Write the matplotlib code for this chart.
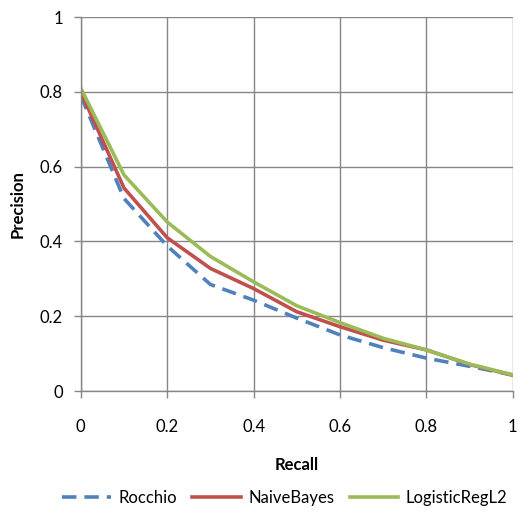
import matplotlib
matplotlib.use("Agg")
import matplotlib.pyplot as plt

plt.rcParams['font.family'] = ['Lato', 'DejaVu Sans']

recall = [0.0, 0.1, 0.2, 0.3, 0.4, 0.5, 0.6, 0.7, 0.8, 0.9, 1.0]
rocchio = [0.79, 0.515, 0.388, 0.285, 0.243, 0.195, 0.150, 0.116, 0.088, 0.066, 0.043]
naive_bayes = [0.80, 0.543, 0.410, 0.328, 0.274, 0.212, 0.172, 0.136, 0.110, 0.071, 0.042]
logistic_l2 = [0.81, 0.578, 0.452, 0.360, 0.292, 0.228, 0.183, 0.141, 0.110, 0.072, 0.043]

fig = plt.figure(figsize=(5.18, 5.21), dpi=100)
ax = fig.add_axes([0.156, 0.2495, 0.834, 0.7175])

ax.plot(recall, rocchio, color='#4F81BD', lw=2.6, linestyle=(0, (4, 2.2)), label='Rocchio')
ax.plot(recall, naive_bayes, color='#C0504D', lw=2.6, label='NaiveBayes')
ax.plot(recall, logistic_l2, color='#9BBB59', lw=2.6, label='LogisticRegL2')

ax.set_xlim(0, 1)
ax.set_ylim(0, 1)
ticks = [0, 0.2, 0.4, 0.6, 0.8, 1]
ax.set_xticks(ticks)
ax.set_yticks(ticks)
ax.set_xticklabels(['0', '0.2', '0.4', '0.6', '0.8', '1'])
ax.set_yticklabels(['0', '0.2', '0.4', '0.6', '0.8', '1'])
ax.grid(True, color='#868686', lw=1)
ax.set_axisbelow(True)
for s in ['top', 'right']:
    ax.spines[s].set_visible(False)
for s in ['left', 'bottom']:
    ax.spines[s].set_color('#868686')
    ax.spines[s].set_linewidth(1)
ax.tick_params(axis='both', colors='#868686', labelcolor='black', labelsize=12, length=5, width=1)
ax.tick_params(axis='x', pad=15)
ax.tick_params(axis='y', pad=8)

ax.set_xlabel('Recall', fontsize=12, fontweight='bold', labelpad=16)
ax.set_ylabel('Precision', fontsize=12, fontweight='bold', labelpad=10)

fig.legend(loc='center', bbox_to_anchor=(0.55, 0.044), ncol=3, frameon=False,
           fontsize=12, handlelength=2.9, columnspacing=0.95, handletextpad=0.45)

fig.savefig('out.png', dpi=100)
